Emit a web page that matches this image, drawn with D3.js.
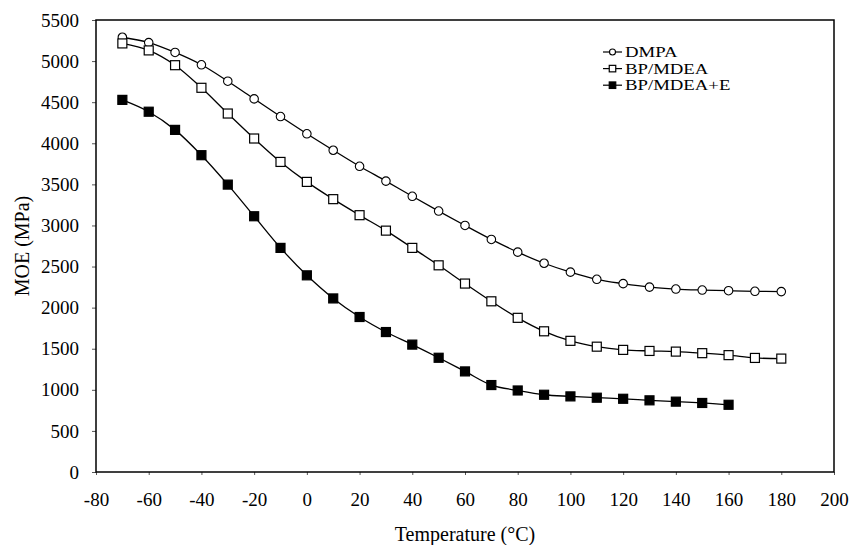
<!DOCTYPE html>
<html>
<head>
<meta charset="utf-8">
<script src="https://cdn.jsdelivr.net/npm/d3@7"></script>
<style>
  body { margin: 0; background: #fff; }
  svg { display: block; font-family: "Liberation Serif", "Times New Roman", serif; }
</style>
</head>
<body>
<div id="chart"></div>
<script>
// temperatures (°C)
const tempsLong = [-70, -60, -50, -40, -30, -20, -10, 0, 10, 20, 30, 40, 50, 60, 70, 80, 90, 100, 110, 120, 130, 140, 150, 160, 170, 180];
const tempsShort = tempsLong.slice(0, 24); // BP/MDEA+E stops at 160

// MOE values (MPa)
const dmpa = [5290, 5225, 5105, 4955, 4755, 4540, 4325, 4115, 3915, 3720, 3540, 3355, 3175, 3000, 2830, 2675, 2540, 2432, 2345, 2292, 2250, 2226, 2214, 2206, 2199, 2195];
const bpMdea = [5215, 5130, 4950, 4675, 4362, 4058, 3773, 3530, 3320, 3125, 2937, 2727, 2515, 2293, 2077, 1876, 1712, 1596, 1525, 1486, 1473, 1465, 1446, 1422, 1388, 1380];
const bpMdeaE = [4528, 4384, 4163, 3855, 3497, 3112, 2727, 2393, 2112, 1886, 1703, 1550, 1390, 1224, 1058, 992, 940, 920, 904, 891, 872, 856, 840, 818];

const seriesNames = ['DMPA', 'BP/MDEA', 'BP/MDEA+E'];
const xTicks = [-80, -60, -40, -20, 0, 20, 40, 60, 80, 100, 120, 140, 160, 180, 200];
const yTicks = [0, 500, 1000, 1500, 2000, 2500, 3000, 3500, 4000, 4500, 5000, 5500];

const W = 849, H = 545;
const margin = { top: 20, right: 15, bottom: 73, left: 96 };
const width = W - margin.left - margin.right;
const height = H - margin.top - margin.bottom;

const svg = d3.select('#chart').append('svg')
    .attr('width', W)
    .attr('height', H);

const g = svg.append('g')
    .attr('transform', `translate(${margin.left},${margin.top})`);

const x = d3.scaleLinear().domain([-80, 200]).range([0, width]);
const y = d3.scaleLinear().domain([0, 5500]).range([height, 0]);

// axes
const xAxis = g.append('g')
    .attr('transform', `translate(0,${height})`)
    .call(d3.axisBottom(x).tickValues(xTicks).tickFormat(d => String(d)).tickSize(3).tickPadding(18));
const yAxis = g.append('g')
    .call(d3.axisLeft(y).tickValues(yTicks).tickFormat(d => String(d)).tickSize(4).tickPadding(13));

[xAxis, yAxis].forEach(ax => {
    ax.attr('font-family', '"Liberation Serif", serif').attr('font-size', 19);
    ax.select('.domain').remove();
    ax.selectAll('text').attr('fill', '#000');
    ax.selectAll('line').attr('stroke', '#555');
});

// plot frame
g.append('rect')
    .attr('width', width)
    .attr('height', height)
    .attr('fill', 'none')
    .attr('stroke', '#000')
    .attr('stroke-width', 1.5);

// axis titles
svg.append('text')
    .attr('x', margin.left + width / 2)
    .attr('y', 541)
    .attr('text-anchor', 'middle')
    .attr('font-size', '20px')
    .text('Temperature (°C)');

svg.append('text')
    .attr('transform', `translate(29,${margin.top + height / 2}) rotate(-90)`)
    .attr('text-anchor', 'middle')
    .attr('font-size', '20px')
    .text('MOE (MPa)');

// lines and markers
const line = d3.line()
    .x(d => x(d[0]))
    .y(d => y(d[1]))
    .curve(d3.curveCatmullRom.alpha(0.5));

const series = [
    { name: seriesNames[0], temps: tempsLong, vals: dmpa, marker: 'circle' },
    { name: seriesNames[1], temps: tempsLong, vals: bpMdea, marker: 'square' },
    { name: seriesNames[2], temps: tempsShort, vals: bpMdeaE, marker: 'filled' }
];

function drawMarker(sel, type, size) {
    if (type === 'circle') {
        sel.append('circle')
            .attr('r', size / 2)
            .attr('fill', '#fff')
            .attr('stroke', '#000')
            .attr('stroke-width', 1.1);
    } else {
        sel.append('rect')
            .attr('x', -size / 2)
            .attr('y', -size / 2)
            .attr('width', size)
            .attr('height', size)
            .attr('fill', type === 'filled' ? '#000' : '#fff')
            .attr('stroke', '#000')
            .attr('stroke-width', 1.2);
    }
}

series.forEach(s => {
    const pts = s.temps.map((t, i) => [t, s.vals[i]]);
    g.append('path')
        .datum(pts)
        .attr('fill', 'none')
        .attr('stroke', '#000')
        .attr('stroke-width', 1.3)
        .attr('d', line);

    g.append('g').selectAll('g')
        .data(pts)
        .join('g')
        .attr('transform', d => `translate(${x(d[0])},${y(d[1])})`)
        .each(function () {
            drawMarker(d3.select(this), s.marker, s.marker === 'circle' ? 8.5 : 9);
        });
});

// legend
const legend = svg.append('g')
    .attr('transform', 'translate(603,52)');

series.forEach((s, i) => {
    const row = legend.append('g')
        .attr('transform', `translate(0,${i * 16.6})`);
    row.append('line')
        .attr('x1', 0)
        .attr('x2', 19)
        .attr('stroke', '#000')
        .attr('stroke-width', 1.2);
    const m = row.append('g').attr('transform', 'translate(9.5,0)');
    drawMarker(m, s.marker, s.marker === 'circle' ? 6 : 6.5);
    row.append('text')
        .attr('transform', 'translate(22,5) scale(1.34,1)')
        .attr('font-size', '14px')
        .text(s.name);
});
</script>
</body>
</html>
